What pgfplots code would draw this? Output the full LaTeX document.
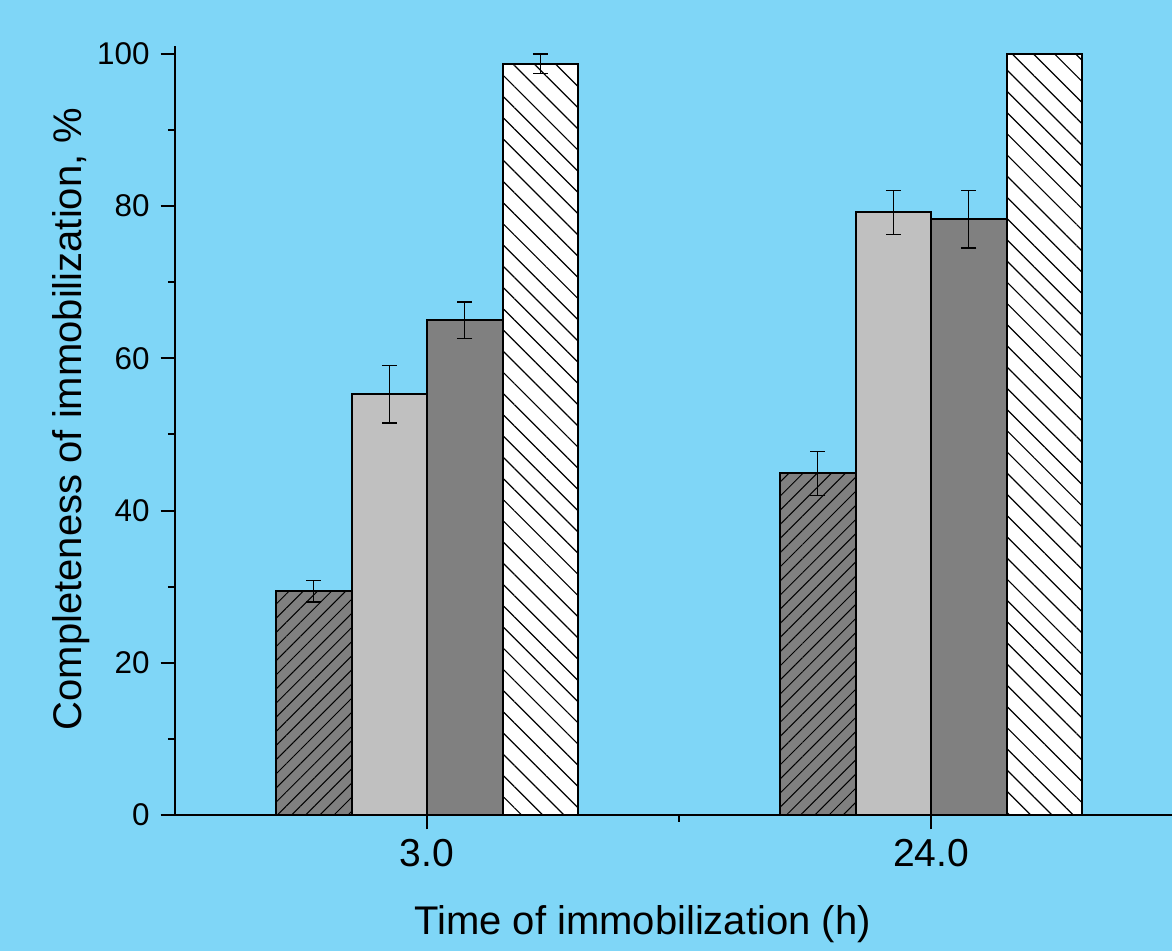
\documentclass[border=0pt]{standalone}
\usepackage{pgfplots}
\pgfplotsset{compat=1.18}
\usepackage{fontspec}
\setmainfont{Liberation Sans}
\usetikzlibrary{patterns.meta,backgrounds}
\definecolor{bgc}{HTML}{7FD6F7}
\definecolor{lgray}{HTML}{C0C0C0}
\definecolor{dgray}{HTML}{808080}
\begin{document}
\begin{tikzpicture}
\begin{axis}[
  name=ax,
  scale only axis,
  width=498.5pt, height=384.5pt,
  xmin=-0.5, xmax=1.478,
  ymin=0, ymax=101.05,
  axis lines*=left,
  axis line style={line width=1.1pt},
  ybar=0pt,
  bar width=37.75pt,
  xtick={0,1},
  xticklabels={3.0,24.0},
  minor xtick={0.5},
  ytick={0,20,40,60,80,100},
  minor ytick={10,30,50,70,90},
  tick align=outside,
  major tick length=7.2pt,
  minor tick length=3.5pt,
  tick style={line width=1pt, black},
  /pgf/number format/assume math mode=true,
  yticklabel style={font=\fontsize{15.7}{18}\selectfont, xshift=-2pt},
  xticklabel style={font=\fontsize{19.5}{23}\selectfont, yshift=-1.5pt},
  xlabel={Time of immobilization (h)},
  ylabel={Completeness of immobilization, \%},
  xlabel style={font=\fontsize{20}{24}\selectfont, at={([yshift=-60pt]axis description cs:0.469,0)}, anchor=base},
  ylabel style={font=\fontsize{20}{24}\selectfont, at={([xshift=-46.5pt]axis description cs:0,0.515)}, anchor=base},
  error bars/y dir=both,
  error bars/y explicit,
  error bars/error mark=|,
  error bars/error bar style={draw=black, line width=0.6pt},
  error bars/error mark options={draw=black, line width=0.6pt, mark size=3.75pt},
  every axis plot/.append style={draw=black, line width=1pt},
]
\addplot[fill=dgray, postaction={pattern={Lines[angle=45,distance=5pt,line width=0.5pt]}, pattern color=black}]
  coordinates {(0,29.4) +- (0,1.4) (1,44.9) +- (0,2.9)};
\addplot[fill=lgray]
  coordinates {(0,55.3) +- (0,3.8) (1,79.2) +- (0,2.9)};
\addplot[fill=dgray]
  coordinates {(0,65.0) +- (0,2.4) (1,78.3) +- (0,3.8)};
\addplot[fill=white, postaction={pattern={Lines[angle=-45,distance=7.5pt,line width=0.6pt]}, pattern color=black}]
  coordinates {(0,98.7) +- (0,1.3) (1,100) +- (0,0)};
\end{axis}
\pgfresetboundingbox
\path[use as bounding box] ([shift={(-87.5pt,-68pt)}]ax.south west) rectangle ([shift={(0pt,23pt)}]ax.north east);
\begin{scope}[on background layer]
\fill[bgc] ([shift={(-87.5pt,-68pt)}]ax.south west) rectangle ([shift={(0pt,23pt)}]ax.north east);
\end{scope}
\end{tikzpicture}
\end{document}
